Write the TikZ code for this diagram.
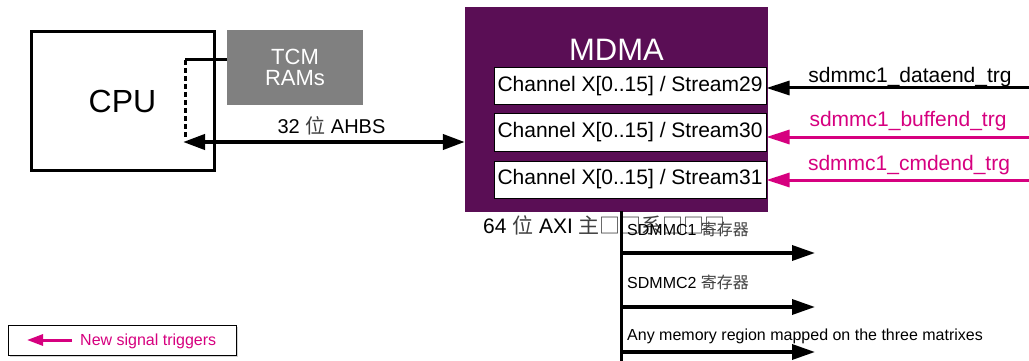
\documentclass[tikz,border=0pt]{standalone}
\usepackage{fontspec}
\setmainfont{Liberation Sans}
\newfontfamily\cjk{Noto Sans CJK SC}
\usetikzlibrary{arrows.meta,shadows}
\definecolor{mdmapurple}{HTML}{5A0E55}
\definecolor{sigmag}{HTML}{D6007F}
\definecolor{tcmgray}{HTML}{808080}
\newcommand{\zh}[1]{{\cjk\color{black!75}#1}}
\tikzset{
  fs/.style={font=\fontsize{#1}{#1}\selectfont},
  cpubox/.style={draw, line width=3pt, inner sep=0pt, minimum width=183pt, minimum height=138pt, fs=32},
  tcmbox/.style={fill=tcmgray, text=white, inner sep=0pt, minimum width=136pt, minimum height=75pt, align=center, fs=22},
  mdmabox/.style={fill=mdmapurple, inner sep=0pt, minimum width=303pt, minimum height=205pt},
  chan/.style={draw=black, fill=white, line width=1pt, minimum width=272pt, minimum height=37pt, inner sep=0pt, fs=21},
  bighead/.style={line width=4pt, {Triangle[length=22pt,width=15pt]}-{Triangle[length=22pt,width=15pt]}},
  sig/.style={line width=3pt, -{Triangle[length=23pt,width=14pt]}},
  bus/.style={line width=3.5pt, -{Triangle[length=23pt,width=15pt]}},
  lbl/.style={anchor=base, inner sep=0pt, fs=21},
  small/.style={anchor=base west, inner sep=0pt, fs=16},
  legend/.style={draw=black, fill=white, line width=1pt, minimum width=228pt, minimum height=30pt, inner sep=0pt,
    drop shadow={opacity=0.35, shadow xshift=1.5pt, shadow yshift=-1.5pt}}
}
\begin{document}
\begin{tikzpicture}[x=1pt,y=-1pt]
\useasboundingbox (0,0) rectangle (1029,361);

% CPU and TCM
\node[cpubox] (cpu) at (122.5,101) {CPU};
\node[tcmbox] (tcm) at (295,67.5) {TCM\\[-1pt]RAMs};
\coordinate (j) at (185,60);
\coordinate (jd) at (185,138);
\coordinate (cpuport) at (183,142);
\draw[line width=3pt] (tcm.west |- j) -- (j);
\draw[line width=3pt, dash pattern=on 5pt off 3pt] (j) -- (jd);

% MDMA
\node[mdmabox] (mdma) at (616.5,109.5) {};
\node[text=white, fs=31, inner sep=0pt] (mdmat) at (616.5,50) {MDMA};
\node[chan] (ch1) at (630,86) {Channel X[0..15] / Stream29};
\node[chan] (ch2) at (630,132.5) {Channel X[0..15] / Stream30};
\node[chan] (ch3) at (630,179.5) {Channel X[0..15] / Stream31};

% AHB link
\draw[bighead] (cpuport) -- (cpuport -| mdma.west);
\node[lbl, fs=20] (ahb) at (331.5,133) {32 \zh{位} AHBS};

% trigger signals
\coordinate (s1) at (1029,88);
\coordinate (s2) at (1029,137);
\coordinate (s3) at (1029,180);
\draw[sig] (s1) -- (s1 -| ch1.east);
\draw[sig, draw=sigmag, fill=sigmag] (s2) -- (s2 -| ch2.east);
\draw[sig, draw=sigmag, fill=sigmag] (s3) -- (s3 -| ch3.east);
\node[lbl] (t1) at (910,83) {sdmmc1\_dataend\_trg};
\node[lbl, text=sigmag] (t2) at (908,126) {sdmmc1\_buffend\_trg};
\node[lbl, text=sigmag] (t3) at (909,170) {sdmmc1\_cmdend\_trg};

% AXI master bus
\node[anchor=base west, inner sep=0pt, fs=21] (axi) at (483,233) {64 \zh{位} AXI \zh{主□□系□□□}};
\coordinate (busTop) at (621,211);
\coordinate (busBot) at (621,361);
\draw[line width=3pt] (busTop) -- (busBot);
\coordinate (b1) at (621,253);
\coordinate (b2) at (621,307);
\coordinate (b3) at (621,352);
\coordinate (e1) at (815,253);
\coordinate (e2) at (815,307);
\coordinate (e3) at (815,352);
\draw[bus] (b1) -- (e1);
\draw[bus] (b2) -- (e2);
\draw[bus] (b3) -- (e3);
\node[small] (r1) at (627,235) {SDMMC1 \zh{寄存器}};
\node[small] (r2) at (627,288) {SDMMC2 \zh{寄存器}};
\node[small] (r3) at (627,340) {Any memory region mapped on the three matrixes};

% legend
\node[legend] (leg) at (122,340) {};
\coordinate (la) at (72,340);
\coordinate (lb) at (27,340);
\draw[line width=3pt, draw=sigmag, fill=sigmag, -{Triangle[length=16pt,width=11pt]}] (la) -- (lb);
\node[small, text=sigmag] (legt) at (80,345.5) {New signal triggers};
\end{tikzpicture}
\end{document}
